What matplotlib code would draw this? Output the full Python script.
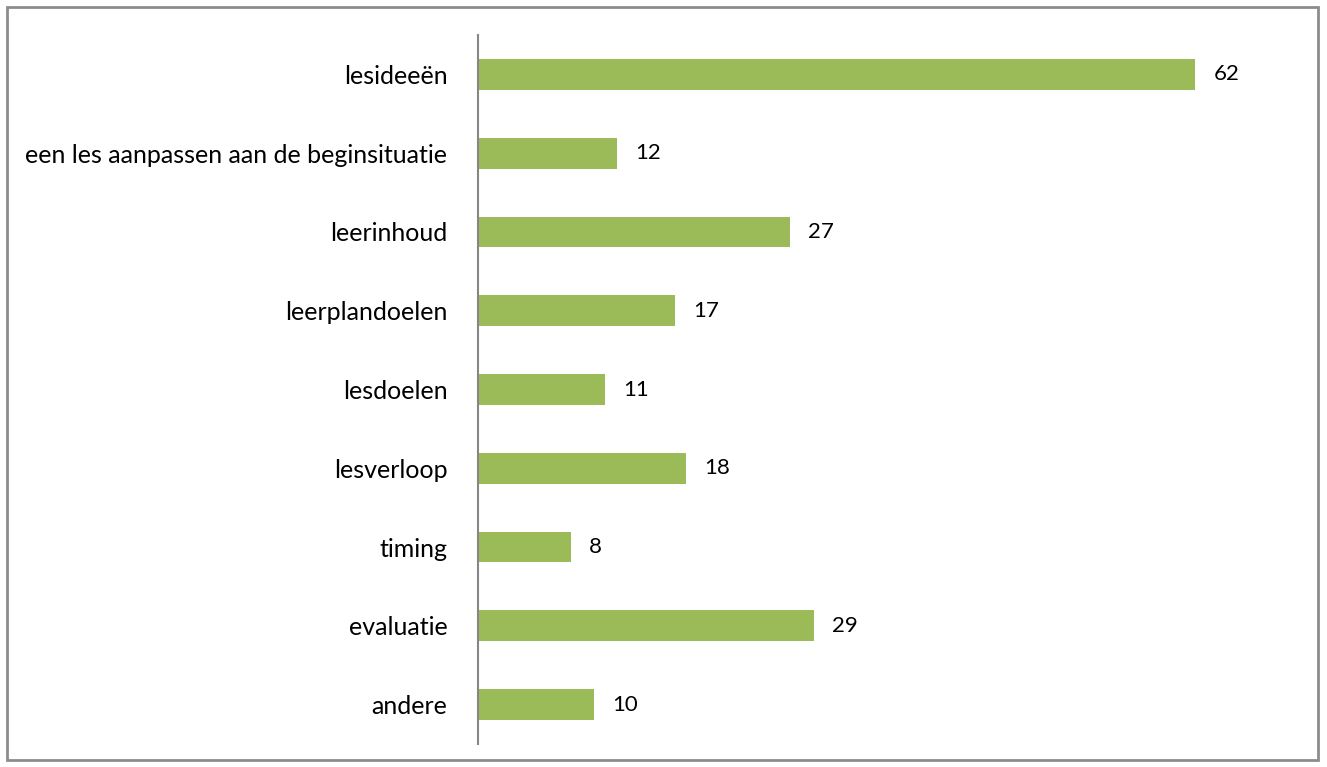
import matplotlib.pyplot as plt
from matplotlib.patches import Rectangle

categorieen = ['lesideeën', 'een les aanpassen aan de beginsituatie', 'leerinhoud',
               'leerplandoelen', 'lesdoelen', 'lesverloop', 'timing', 'evaluatie', 'andere']
aantallen = [62, 12, 27, 17, 11, 18, 8, 29, 10]

plt.rcParams['font.family'] = ['Lato', 'DejaVu Sans']

fig = plt.figure(figsize=(13.27, 7.67), dpi=100)
# grijze rand rond de grafiek
fig.patches.append(Rectangle((7/1327, 7/767), 1311/1327, 753/767, transform=fig.transFigure,
                             fill=False, edgecolor='#8c8c8c', linewidth=2))

ax = fig.add_axes([478/1327, 1 - 744/767, 810/1327, 709/767])
y = list(range(len(categorieen)))
ax.barh(y, aantallen, height=0.39, color='#9bbb59')
ax.set_xlim(0, 70)
ax.set_ylim(len(categorieen) - 0.5, -0.5)

for yi, v in zip(y, aantallen):
    ax.annotate(str(v), xy=(v, yi), xytext=(13, 0), textcoords='offset points',
                va='center', ha='left', fontsize=16)

ax.set_yticks(y)
ax.set_yticklabels(categorieen, fontsize=18)
ax.tick_params(axis='y', length=0, pad=22)
ax.set_xticks([])
for s in ['top', 'right', 'bottom']:
    ax.spines[s].set_visible(False)
ax.spines['left'].set_color('#868686')
ax.spines['left'].set_linewidth(1.5)

fig.savefig('out.png', dpi=100)
